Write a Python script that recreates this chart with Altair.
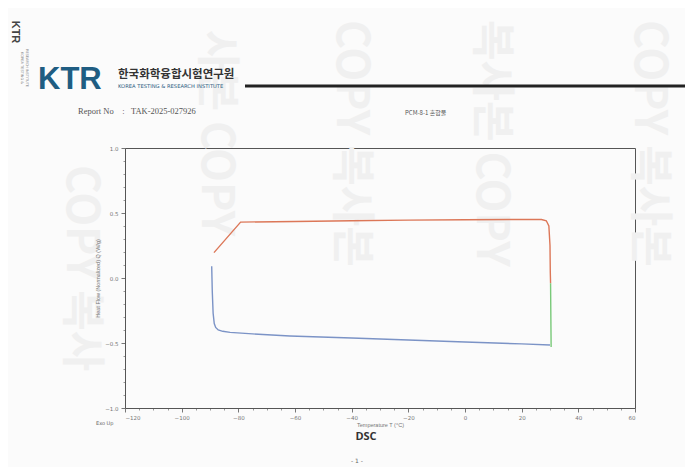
import altair as alt
import pandas as pd

# ---- data ----
blue_T = [-89.4, -89.2, -88.9, -88.5, -88.0, -87.1, -85.5, -82.9, -75.0, -61.8, -40.0, -20.0, 0.0, 20.0, 30.0]
blue_V = [0.09, -0.10, -0.27, -0.35, -0.38, -0.40, -0.41, -0.418, -0.43, -0.446, -0.462, -0.477, -0.492, -0.507, -0.515]

red_T = [-88.6, -79.2, -60.0, -40.0, -20.0, 0.0, 20.0, 27.0, 28.7, 29.6, 30.0, 30.1, 30.2]
red_V = [0.195, 0.43, 0.435, 0.44, 0.445, 0.448, 0.45, 0.45, 0.44, 0.40, 0.25, 0.05, -0.04]

green_T = [30.2, 30.3, 30.4]
green_V = [-0.04, -0.30, -0.53]

series_names = ["cool", "heat", "iso"]
series_colors = ["#7b93c6", "#dc7758", "#79c979"]

x_ticks = [-120, -100, -80, -60, -40, -20, 0, 20, 40, 60]
y_ticks = [-1.0, -0.5, 0.0, 0.5, 1.0]
x_minor = list(range(-120, 61, 5))
y_minor = [round(-1.0 + 0.1 * i, 1) for i in range(21)]

rows = []
for name, Ts, Vs in zip(series_names, [blue_T, red_T, green_T], [blue_V, red_V, green_V]):
    for i, (t, v) in enumerate(zip(Ts, Vs)):
        rows.append({"series": name, "T": t, "V": v, "i": i})
df = pd.DataFrame(rows)

xs = alt.Scale(domain=[-120, 60], nice=False, zero=False)
ys = alt.Scale(domain=[-1, 1], nice=False, zero=False)

lab = dict(labelFontSize=5.5, labelColor="#777", labelFont="DejaVu Sans",
           domainColor="#555", tickColor="#777", grid=False, zindex=1)

lines = alt.Chart(df).mark_line(strokeWidth=1.4).encode(
    x=alt.X("T:Q", scale=xs, axis=alt.Axis(values=x_ticks, title="Temperature T (°C)",
            titleFontSize=5.5, titleColor="#777", titleFontWeight="normal",
            tickSize=4, labelPadding=3, titlePadding=2, orient="bottom", **lab)),
    y=alt.Y("V:Q", scale=ys, axis=alt.Axis(values=y_ticks, title="Heat Flow (Normalized) Q (W/g)",
            titleFontSize=5.5, titleColor="#777", titleFontWeight="normal", format=".1f",
            tickSize=4, labelPadding=3, titlePadding=4, orient="left", **lab)),
    color=alt.Color("series:N", scale=alt.Scale(domain=series_names, range=series_colors), legend=None),
    detail="series:N",
    order="i:Q",
)

minor = alt.Chart(df).mark_point(opacity=0).encode(
    x=alt.X("T:Q", scale=xs, axis=alt.Axis(values=x_minor, labels=False, title=None, domain=False,
            ticks=True, tickSize=2, tickColor="#999", grid=False, orient="bottom", zindex=1)),
    y=alt.Y("V:Q", scale=ys, axis=alt.Axis(values=y_minor, labels=False, title=None, domain=False,
            ticks=True, tickSize=2, tickColor="#999", grid=False, orient="left", zindex=1)),
)

one = pd.DataFrame({"a": [0]})
OX, OY = 125, 148  # page position of plot origin
NB = "\u00a0"


def txt(s, px, py, size, color="#444", weight="normal", font="DejaVu Sans", angle=0, align="left", baseline="middle"):
    return alt.Chart(one).mark_text(text=s, fontSize=size, color=color, fontWeight=weight, font=font,
                                    angle=angle, align=align, baseline=baseline).encode(
        x=alt.value(px - OX), y=alt.value(py - OY))


water = []
for s, px, py in [("COPY 복사", 80, 165), ("사본 COPY", 215, 30), ("COPY 복사본", 350, 20),
                  ("복사본 COPY", 490, 20), ("COPY 복사본", 648, 20)]:
    water.append(txt(s, px, py, 44, color="#f0f0f0", weight="bold", font="Noto Sans CJK KR", angle=90))

head = [
    txt("KTR", 38, 89, 31, color="#1f5d82", weight="bold", font="Liberation Sans", baseline="alphabetic"),
    txt("한국화학융합시험연구원", 118, 75, 11.5, color="#333", weight="bold", font="Noto Sans CJK KR"),
    txt("KOREA TESTING & RESEARCH INSTITUTE", 118, 86, 5.2, color="#2a5a80", font="DejaVu Sans"),
    txt("Report No" + NB * 4 + ":" + NB * 3 + "TAK-2025-027926", 78, 111, 8.5, color="#555", font="Liberation Serif"),
    txt("PCM-8-1 혼합물", 405, 113, 6, color="#555", font="Noto Sans CJK KR"),
    txt("KTR", 15, 32, 11, color="#444", weight="bold", font="Liberation Sans", angle=90, align="center"),
    txt("KOREA TESTING &", 22, 68, 3.5, color="#888", angle=90, align="center"),
    txt("RESEARCH INSTITUTE", 27, 68, 3.5, color="#888", angle=90, align="center"),
    txt("Exo Up", 96, 423, 5, color="#666"),
    txt("DSC", 366, 437, 11, color="#333", weight="bold", font="Open Sans", align="center"),
    txt("- 1 -", 357, 461, 6, color="#666", align="center"),
]

rule = alt.Chart(one).mark_rule(color="#222", strokeWidth=3).encode(
    x=alt.value(245 - OX), x2=alt.value(690 - OX), y=alt.value(86 - OY))

chart = alt.layer(*water, minor, lines, rule, *head).resolve_axis(
    x="independent", y="independent"
).properties(
    width=510, height=260,
    autosize=alt.AutoSizeParams(type="none"),
    padding={"left": 117, "top": 140, "right": 50, "bottom": 59},
    background="#fbfbfb",
).configure_view(stroke="#555", strokeWidth=1)

chart.save("out.html", embed_options={"renderer": "svg", "actions": False})
